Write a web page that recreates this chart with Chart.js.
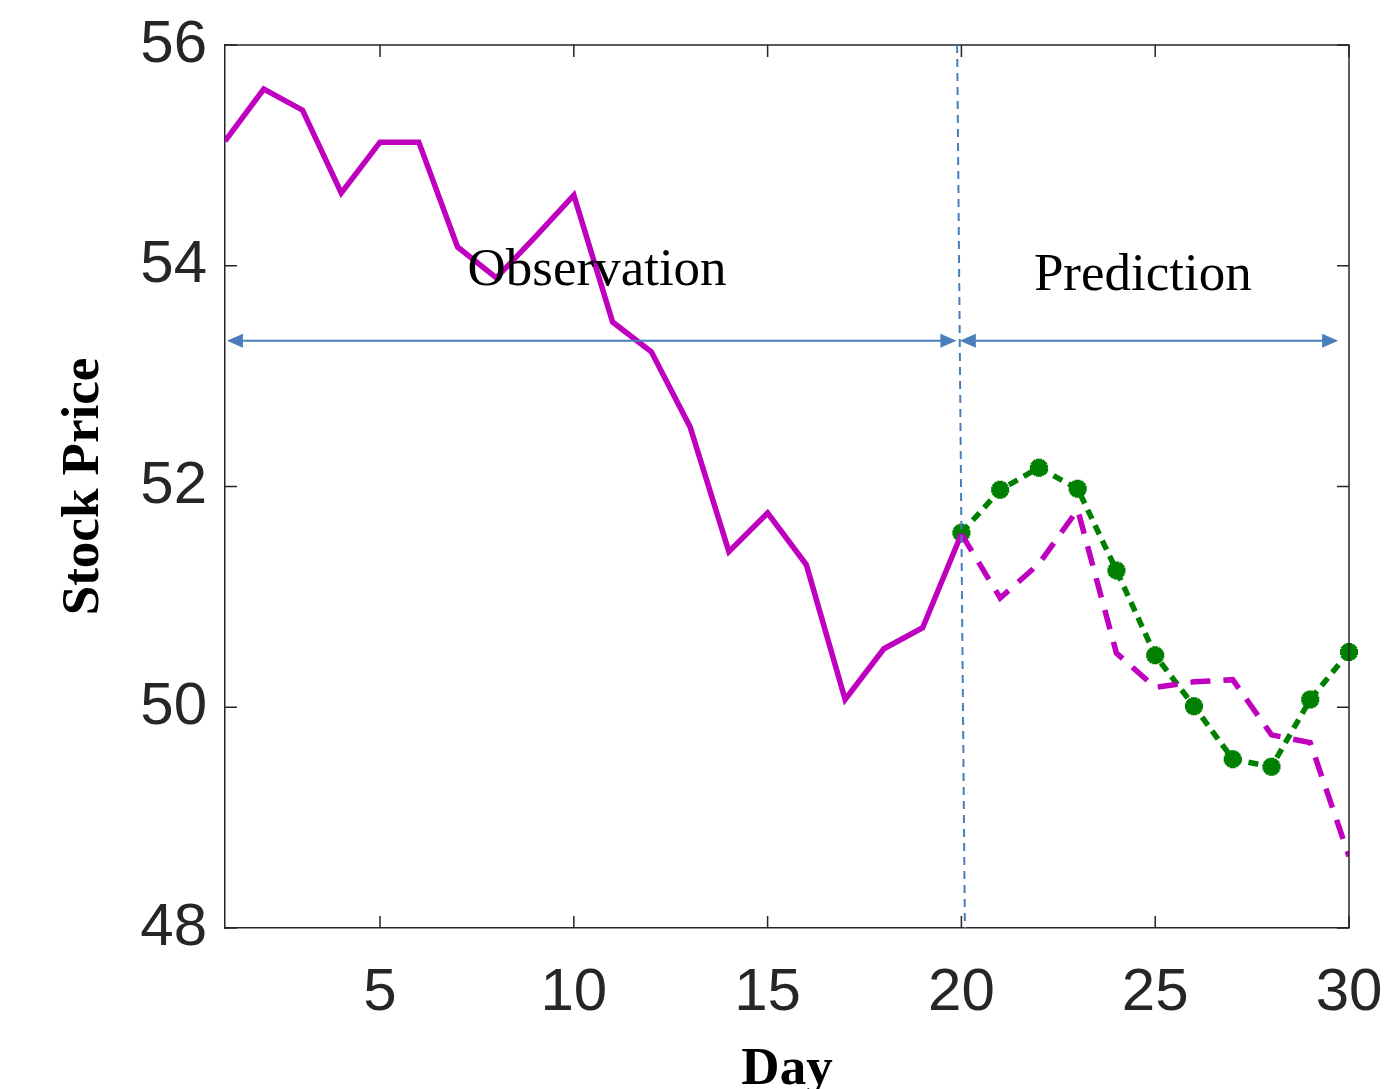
<!DOCTYPE html>
<html>
<head>
<meta charset="utf-8">
<script src="https://cdn.jsdelivr.net/npm/chart.js@4.4.1/dist/chart.umd.min.js"></script>
<style>
  html, body { margin: 0; padding: 0; background: #fff; }
  #wrap { width: 1391px; height: 1089px; position: relative; }
</style>
</head>
<body>
<div id="wrap"><canvas id="stockChart"></canvas></div>
<script>
// Observed prices, days 1-20
const obsDays = [1, 2, 3, 4, 5, 6, 7, 8, 9, 10, 11, 12, 13, 14, 15, 16, 17, 18, 19, 20];
const obsPrice = [55.13, 55.60, 55.41, 54.66, 55.12, 55.12, 54.17, 53.89, 54.26, 54.64,
                  53.49, 53.22, 52.54, 51.41, 51.76, 51.29, 50.07, 50.53, 50.72, 51.57];

// Prediction window, days 20-30
const predDays = [20, 21, 22, 23, 24, 25, 26, 27, 28, 29, 30];
const actualPrice = [51.57, 50.99, 51.30, 51.79, 50.49, 50.18, 50.23, 50.25, 49.75, 49.68, 48.65];
const predictedPrice = [51.58, 51.97, 52.17, 51.98, 51.24, 50.47, 50.01, 49.53, 49.46, 50.07, 50.50];

// Tick labels
const dayTicks = [5, 10, 15, 20, 25, 30];
const priceTicks = [48, 50, 52, 54, 56];

const MAGENTA = '#bf00bf';
const GREEN = '#008000';
const BLUE = '#4a7ebb';
const AXIS = '#262626';

function toPoints(xs, ys) {
    return xs.map((x, i) => ({ x: x, y: ys[i] }));
}

// Box, inward ticks, split line, arrows and region labels
const annotationPlugin = {
    id: 'annotations',
    afterDatasetsDraw(chart) {
        const ctx = chart.ctx;
        const x = chart.scales.x;
        const y = chart.scales.y;
        const area = chart.chartArea;

        ctx.save();
        // box top/right
        ctx.strokeStyle = AXIS;
        ctx.lineWidth = 1.5;
        ctx.beginPath();
        ctx.moveTo(area.left, area.top);
        ctx.lineTo(area.right, area.top);
        ctx.lineTo(area.right, area.bottom);
        ctx.stroke();

        // inward ticks on all four sides
        const tl = 12;
        ctx.beginPath();
        dayTicks.forEach(v => {
            const px = x.getPixelForValue(v);
            ctx.moveTo(px, area.bottom);
            ctx.lineTo(px, area.bottom - tl);
            ctx.moveTo(px, area.top);
            ctx.lineTo(px, area.top + tl);
        });
        priceTicks.forEach(v => {
            const py = y.getPixelForValue(v);
            ctx.moveTo(area.left, py);
            ctx.lineTo(area.left + tl, py);
            ctx.moveTo(area.right, py);
            ctx.lineTo(area.right - tl, py);
        });
        ctx.stroke();

        // dashed split line between observation and prediction
        ctx.strokeStyle = BLUE;
        ctx.lineWidth = 2;
        ctx.setLineDash([8, 6]);
        ctx.beginPath();
        ctx.moveTo(x.getPixelForValue(19.89), y.getPixelForValue(56));
        ctx.lineTo(x.getPixelForValue(20.09), y.getPixelForValue(48));
        ctx.stroke();
        ctx.setLineDash([]);

        // double-headed arrows
        function arrow(x1, x2, v) {
            const py = y.getPixelForValue(v);
            const a = x.getPixelForValue(x1);
            const b = x.getPixelForValue(x2);
            ctx.lineWidth = 2;
            ctx.beginPath();
            ctx.moveTo(a + 10, py);
            ctx.lineTo(b - 10, py);
            ctx.stroke();
            ctx.beginPath();
            ctx.moveTo(a, py);
            ctx.lineTo(a + 16, py - 7);
            ctx.lineTo(a + 16, py + 7);
            ctx.closePath();
            ctx.moveTo(b, py);
            ctx.lineTo(b - 16, py - 7);
            ctx.lineTo(b - 16, py + 7);
            ctx.closePath();
            ctx.fill();
        }
        ctx.fillStyle = BLUE;
        arrow(1.05, 19.87, 53.32);
        arrow(19.96, 29.72, 53.32);

        // region labels
        ctx.fillStyle = '#000';
        ctx.font = '53px "Liberation Serif", "Times New Roman", serif';
        ctx.textAlign = 'center';
        ctx.textBaseline = 'middle';
        ctx.fillText('Observation', x.getPixelForValue(10.6), y.getPixelForValue(53.95));
        ctx.fillText('Prediction', x.getPixelForValue(24.68), y.getPixelForValue(53.91));
        ctx.restore();
    }
};

document.addEventListener('DOMContentLoaded', function() {
    const ctx = document.getElementById('stockChart').getContext('2d');

    new Chart(ctx, {
        type: 'line',
        data: {
            datasets: [{
                label: 'Observation',
                data: toPoints(obsDays, obsPrice),
                borderColor: MAGENTA,
                borderWidth: 5.5,
                pointRadius: 0,
                tension: 0
            }, {
                label: 'Actual',
                data: toPoints(predDays, actualPrice),
                borderColor: MAGENTA,
                borderWidth: 5.5,
                borderDash: [20, 13],
                pointRadius: 0,
                tension: 0
            }, {
                label: 'Predicted',
                data: toPoints(predDays, predictedPrice),
                borderColor: GREEN,
                backgroundColor: GREEN,
                borderWidth: 5.5,
                borderDash: [10, 7],
                pointStyle: 'star',
                pointRadius: 9,
                pointBorderWidth: 6,
                pointBorderColor: GREEN,
                tension: 0,
                clip: false
            }]
        },
        options: {
            responsive: true,
            maintainAspectRatio: false,
            animation: false,
            layout: { padding: { top: 45, right: 42, left: 0, bottom: 0 } },
            plugins: {
                legend: { display: false },
                tooltip: { enabled: false }
            },
            scales: {
                x: {
                    type: 'linear',
                    min: 1,
                    max: 30,
                    afterBuildTicks: scale => { scale.ticks = dayTicks.map(v => ({ value: v })); },
                    afterFit: scale => {
                        scale.height = 161;
                        scale.paddingLeft = 0;
                        scale.paddingRight = 0;
                    },
                    grid: { display: false, drawTicks: false },
                    border: { display: true, color: AXIS, width: 1.5 },
                    ticks: {
                        color: AXIS,
                        padding: 29,
                        maxRotation: 0,
                        font: { family: '"Liberation Sans", Arial, sans-serif', size: 60 }
                    },
                    title: {
                        display: true,
                        text: 'Day',
                        color: '#000',
                        padding: { top: 0, bottom: 0 },
                        font: { family: '"Liberation Serif", "Times New Roman", serif', size: 53, weight: 'bold', lineHeight: 0.7 }
                    }
                },
                y: {
                    min: 48,
                    max: 56,
                    afterBuildTicks: scale => { scale.ticks = priceTicks.map(v => ({ value: v })); },
                    afterFit: scale => {
                        scale.width = 225;
                        scale.paddingTop = 0;
                        scale.paddingBottom = 0;
                    },
                    grid: { display: false, drawTicks: false },
                    border: { display: true, color: AXIS, width: 1.5 },
                    ticks: {
                        color: AXIS,
                        padding: 18,
                        font: { family: '"Liberation Sans", Arial, sans-serif', size: 60 }
                    },
                    title: {
                        display: true,
                        text: 'Stock Price',
                        color: '#000',
                        padding: { top: 58, bottom: 0 },
                        font: { family: '"Liberation Serif", "Times New Roman", serif', size: 53, weight: 'bold', lineHeight: 1 }
                    }
                }
            }
        },
        plugins: [annotationPlugin]
    });
});
</script>
</body>
</html>
